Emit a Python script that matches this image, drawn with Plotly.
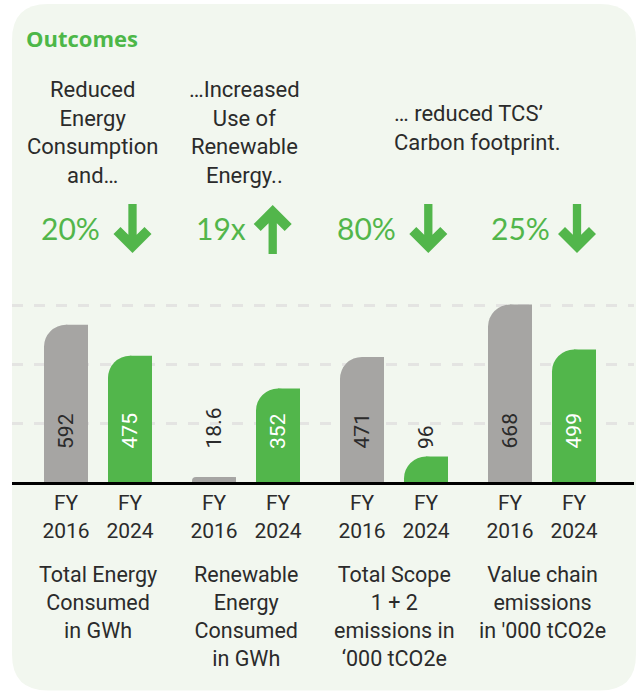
import plotly.graph_objects as go

# ---- data ----
groups = ["Total Energy<br>Consumed<br>in GWh",
          "Renewable<br>Energy<br>Consumed<br>in GWh",
          "Total Scope<br>1 + 2<br>emissions in<br>‘000 tCO2e",
          "Value chain<br>emissions<br>in '000 tCO2e"]
fy2016 = [592, 18.6, 471, 668]
fy2024 = [475, 352, 96, 499]
year_labels = ["FY<br>2016", "FY<br>2024"]
changes = ["20%", "19x", "80%", "25%"]
directions = ["down", "up", "down", "down"]
headlines = ["Reduced<br>Energy<br>Consumption<br>and…",
             "…Increased<br>Use of<br>Renewable<br>Energy..",
             "… reduced TCS’<br>Carbon footprint."]

GREEN = "#52B64B"
GREY = "#A6A5A3"
TEXT = "#2B2B2B"
PANEL = "#F2F7EF"
FONT = "Roboto"

# ---- layout helpers (pixels -> paper) ----
W, H = 636, 692
L, R, T, B = 12, 2, 290, 210
PW, PH = W - L - R, H - T - B


def fx(x):
    return (x - L) / PW


def fy(y):
    return (H - B - y) / PH


step = 148.0                    # px per group
x0 = -86 / step
x1 = x0 + PW / step
off, bw = 32 / step, 44 / step
pos16 = [i - off for i in range(len(groups))]
pos24 = [i + off for i in range(len(groups))]

fig = go.Figure()
for pos, vals, col in [(pos16, fy2016, GREY), (pos24, fy2024, GREEN)]:
    # rounded bar, then a square right half so only the top-left corner is rounded
    fig.add_trace(go.Bar(x=pos, y=vals, width=bw, hoverinfo="skip",
                         marker=dict(color=col, cornerradius=22, line_width=0)))
    fig.add_trace(go.Bar(x=[p + bw / 4 for p in pos], y=vals, width=bw / 2, hoverinfo="skip",
                         marker=dict(color=col, line_width=0)))

annotations = []
# value labels
for pos, vals, green in [(pos16, fy2016, False), (pos24, fy2024, True)]:
    for p, v in zip(pos, vals):
        col = "white" if (green and v > 250) else TEXT
        annotations.append(dict(x=p, y=117, xref="x", yref="y", text=f"{v:g}", showarrow=False,
                                textangle=-90, yanchor="bottom", xanchor="center",
                                font=dict(family=FONT, size=21, color=col)))

# group captions under the axis
for i, g in enumerate(groups):
    annotations.append(dict(x=i, y=fy(560), xref="x", yref="paper", text=g, showarrow=False,
                            yanchor="top", xanchor="center", align="center",
                            font=dict(family=FONT, size=21.5, color=TEXT)))

# headlines
head_pos = [(92, "center"), (244.5, "center"), (392, "left")]
head_top = [75, 75, 98.5]
for txt, (hx, anc), ht in zip(headlines, head_pos, head_top):
    annotations.append(dict(x=fx(hx), y=fy(ht), xref="paper", yref="paper", text=txt, showarrow=False,
                            xanchor=anc, yanchor="top", align=anc if anc == "left" else "center",
                            font=dict(family=FONT, size=22, color=TEXT)))

# change badges + arrows
badge_x = [70, 221, 366, 520]
arrow_x = [132.5, 272.7, 428.3, 577]
for c, bx in zip(changes, badge_x):
    annotations.append(dict(x=fx(bx), y=fy(228), xref="paper", yref="paper", text=c, showarrow=False,
                            xanchor="center", yanchor="middle",
                            font=dict(family="Lato", size=30, color=GREEN)))

annotations.append(dict(x=fx(24), y=fy(38), xref="paper", yref="paper", text="<b>Outcomes</b>",
                        showarrow=False, xanchor="left", yanchor="middle",
                        font=dict(family="Open Sans", size=22, color="#4DB748")))

arrow_pts = [(-4.15, 0), (4.15, 0), (4.15, 30.85), (12, 23), (19, 30), (0, 49),
             (-19, 30), (-12, 23), (-4.15, 30.85)]


def arrow_path(up):
    s = 1 if up else -1
    return "M " + " L ".join(f"{x},{s * y}" for x, y in arrow_pts) + " Z"


shapes = []
# background panel with rounded corners
pl, pr, pt, pb, rr = 0, 624, 478, -208.5, 36
panel = (f"M {pl + rr},{pt} L {pr - rr},{pt} Q {pr},{pt} {pr},{pt - rr} "
         f"L {pr},{pb + rr} Q {pr},{pb} {pr - rr},{pb} L {pl + rr},{pb} "
         f"Q {pl},{pb} {pl},{pb + rr} L {pl},{pt - rr} Q {pl},{pt} {pl + rr},{pt} Z")
shapes.append(dict(type="path", xref="paper", yref="paper", xsizemode="pixel", ysizemode="pixel",
                   xanchor=0, yanchor=0, path=panel, fillcolor=PANEL, line_width=0, layer="below"))
for d, ax in zip(directions, arrow_x):
    up = d == "up"
    shapes.append(dict(type="path", xref="paper", yref="paper", xsizemode="pixel", ysizemode="pixel",
                       xanchor=fx(ax), yanchor=fy(254 if up else 204), path=arrow_path(up),
                       fillcolor=GREEN, line_width=0, layer="above"))

fig.update_layout(
    width=W, height=H, margin=dict(l=L, r=R, t=T, b=B),
    barmode="overlay", showlegend=False,
    paper_bgcolor="white", plot_bgcolor="rgba(0,0,0,0)",
    annotations=annotations, shapes=shapes,
    font=dict(family=FONT, color=TEXT),
)
fig.update_xaxes(range=[x0, x1], tickvals=pos16 + pos24,
                 ticktext=[year_labels[0]] * 4 + [year_labels[1]] * 4,
                 tickfont=dict(family=FONT, size=21, color=TEXT),
                 showline=True, linecolor="black", linewidth=3, showgrid=False,
                 zeroline=False, ticks="", fixedrange=True)
fig.update_yaxes(range=[0, 723], tickvals=[222, 444, 666], showticklabels=False,
                 showgrid=True, gridcolor="#E4E4E2", gridwidth=3, griddash="11px,11px",
                 zeroline=False, fixedrange=True)

# page body has a default 8px margin; drop it so the figure sits at the window origin
fig.write_html("out.html", config={"displayModeBar": False},
               post_script="document.body.style.margin='0';document.body.style.overflow='hidden';")
